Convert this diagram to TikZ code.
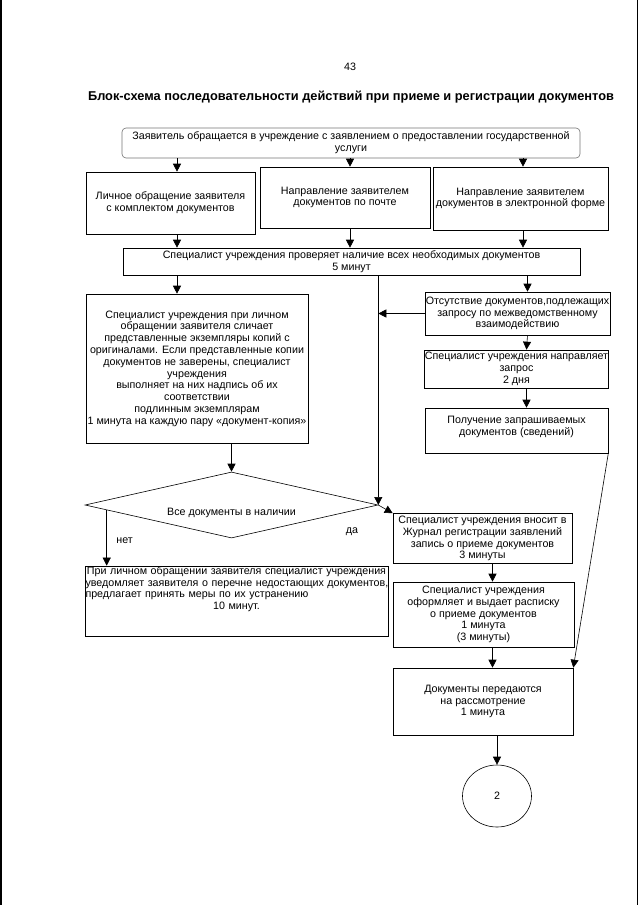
\documentclass[tikz,border=0pt]{standalone}
\usepackage{fontspec}
\setmainfont{Liberation Sans}
\usetikzlibrary{arrows.meta, positioning, calc, shapes.geometric}
\newcommand\shrift{\fontsize{10.7}{11.8}\selectfont}
\tikzset{
    blok/.style={rectangle, draw, line width=0.6pt, align=center, font=\shrift,
                 inner sep=0.5pt},
    nachalo/.style={blok, rounded corners=4pt, draw=black!55},
    vybor/.style={diamond, draw, line width=0.6pt, font=\shrift, inner sep=0pt,
                  shape aspect=4.4},
    konec/.style={ellipse, draw, line width=0.6pt, font=\shrift, inner sep=0pt},
    metka/.style={font=\shrift},
    strelka/.style={-{Triangle[length=8pt, width=8pt]}, line width=0.6pt},
}
\begin{document}
\begin{tikzpicture}[x=1pt, y=-1pt]
    \useasboundingbox (0,0) rectangle (640,905);
    % края скана
    \draw[line width=2.5pt] (1,0) -- (1,905);
    \draw[line width=0.6pt] (637,0) -- (637,905);

    \node[metka] (nomer) at (350,67) {43};
    \node[font=\bfseries\fontsize{12.8}{14}\selectfont] (zagolovok) at (351,97)
        {Блок-схема последовательности действий при приеме и регистрации документов};

    \node[nachalo, minimum width=458, minimum height=30] (start) at (351,143)
        {Заявитель обращается в учреждение с заявлением о предоставлении государственной\\услуги};

    \node[blok, minimum width=169, minimum height=62] (lichno) at (170.5,203)
        {Личное обращение заявителя\\с комплектом документов};
    \node[blok, minimum width=170, minimum height=61] (pochta) at (345,197.5)
        {Направление заявителем\\документов по почте};
    \node[blok, minimum width=175, minimum height=63] (elektr) at (520.5,198.5)
        {Направление заявителем\\документов в электронной форме};

    \node[blok, minimum width=457, minimum height=27] (proverka) at (351.5,261.5)
        {Специалист учреждения проверяет наличие всех необходимых документов\\5 минут};

    \node[blok, minimum width=222, minimum height=149] (slichenie) at (197,368.5)
        {Специалист учреждения при личном\\обращении заявителя сличает\\представленные экземпляры копий с\\оригиналами. Если представленные копии\\документов не заверены, специалист\\учреждения\\выполняет на них надпись об их\\соответствии\\подлинным экземплярам\\1 минута на каждую пару «документ-копия»};

    \node[blok, minimum width=185, minimum height=43] (otsut) at (517.5,313.5)
        {Отсутствие документов,подлежащих\\запросу по межведомственному\\взаимодействию};
    \node[blok, minimum width=183, minimum height=38] (zapros) at (516.5,369)
        {Специалист учреждения направляет\\запрос\\2 дня};
    \node[blok, minimum width=183, minimum height=45] (poluch) at (516.5,430.5)
        {Получение запрашиваемых\\документов (сведений)\rule[-10pt]{0pt}{0pt}};

    \node[vybor, minimum width=293, minimum height=66] (nalichie) at (231.5,505)
        {\raisebox{-10pt}[0pt][0pt]{Все документы в наличии}};

    \node[blok, minimum width=179, minimum height=50] (vnosit) at (482.5,538.5)
        {Специалист учреждения вносит в\\Журнал регистрации заявлений\\запись о приеме документов\\3 минуты};
    \node[blok, minimum width=181, minimum height=65] (raspiska) at (483.5,614.5)
        {Специалист учреждения\\оформляет и выдает расписку\\о приеме документов\\1 минута\\(3 минуты)};
    \node[blok, minimum width=180, minimum height=67] (peredacha) at (483,701.5)
        {Документы передаются\\на рассмотрение\\1 минута};
    \node[konec, minimum width=69, minimum height=62] (dva) at (497,796) {2};

    \node[blok, text width=302, align=left, minimum height=68] (otkaz) at (236.5,601)
        {\centerline{При личном обращении заявителя специалист учреждения}\\\mbox{уведомляет заявителя о перечне недостающих документов,}\\предлагает принять меры по их устранению\\\centerline{10 минут.}\rule[-14pt]{0pt}{0pt}};

    % подача заявления
    \draw[strelka] ([xshift=6.5]start.south -| lichno.north) -- ([xshift=6.5]lichno.north);
    \draw[strelka] ([xshift=5]start.south -| pochta.north) -- ([xshift=5]pochta.north);
    \draw[strelka] ([xshift=2.5]start.south -| elektr.north) -- ([xshift=2.5]elektr.north);
    \draw[strelka] ([xshift=6.5]lichno.south) -- ([xshift=6.5]proverka.north -| lichno.south);
    \draw[strelka] ([xshift=5]pochta.south) -- ([xshift=5]proverka.north -| pochta.south);
    \draw[strelka] ([xshift=2.5]elektr.south) -- ([xshift=2.5]proverka.north -| elektr.south);

    % проверка
    \draw[strelka] ([xshift=-20]proverka.south -| slichenie.north) -- ([xshift=-20]slichenie.north);
    \draw[strelka] (proverka.south -| nalichie.east) -- (nalichie.east);
    \draw[strelka] ([xshift=10]proverka.south -| otsut.north) -- ([xshift=10]otsut.north);
    \draw[strelka] (otsut.west) -- (otsut.west -| nalichie.east);
    \draw[strelka] ([xshift=10]otsut.south) -- ([xshift=10]zapros.north);
    \draw[strelka] ([xshift=10]zapros.south) -- ([xshift=10]poluch.north);
    \draw[strelka] (poluch.south east) -- (peredacha.north east);

    % решение
    \draw[strelka] (slichenie.south -| nalichie.north) -- (nalichie.north);
    \coordinate (net) at ($(nalichie.west)!0.15!(nalichie.south)$);
    \draw[strelka] (net) -- (net |- otkaz.north) node[metka, pos=0.55, right=6pt] {нет};
    \draw[strelka] (nalichie.east) -- (vnosit.north west);
    \node[metka] (da) at (352,532) {да};

    % регистрация
    \draw[strelka] ([xshift=10]vnosit.south) -- ([xshift=10]raspiska.north -| vnosit.south);
    \draw[strelka] ([xshift=10]raspiska.south -| vnosit.south) -- ([xshift=10]peredacha.north -| vnosit.south);
    \draw[strelka] (peredacha.south -| dva.north) -- (dva.north);
\end{tikzpicture}
\end{document}
